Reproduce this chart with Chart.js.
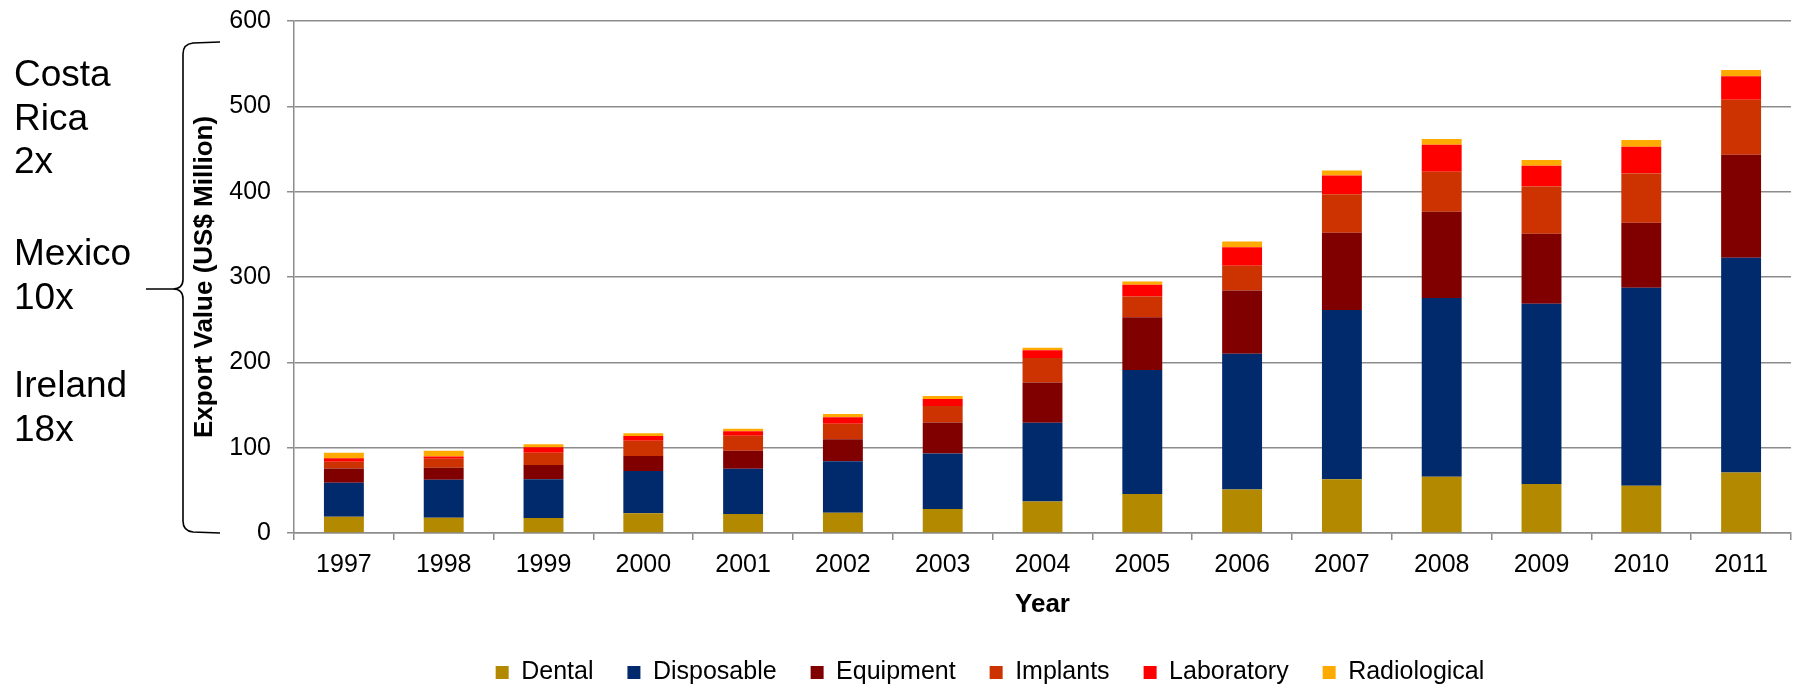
<!DOCTYPE html>
<html>
<head>
<meta charset="utf-8">
<script src="https://cdn.jsdelivr.net/npm/chart.js@4.4.1/dist/chart.umd.min.js"></script>
<style>
  html, body { margin: 0; padding: 0; background: #fff; }
  canvas { display: block; }
</style>
</head>
<body>
<canvas id="exports" width="1793" height="687"></canvas>
<script>
// Medical device exports by segment, US$ million
const years = ['1997', '1998', '1999', '2000', '2001', '2002', '2003', '2004',
               '2005', '2006', '2007', '2008', '2009', '2010', '2011'];
const dental       = [19, 18, 17.6, 23, 22.3, 23.8, 28.2, 36.8, 45.8, 50.9, 63, 66, 57.5, 55.5, 70.8];
const disposable   = [40, 44.5, 45.3, 49.7, 53.1, 60.2, 65, 92.4, 145.2, 159.3, 198.4, 209.5, 211.1, 231.8, 251.7];
const equipment    = [16.5, 14, 16.8, 17.5, 21.1, 25.8, 36.3, 47.3, 61.8, 73.9, 90.4, 100.9, 82.1, 76.3, 120.8];
const implants     = [8, 10.5, 14.4, 18, 17.5, 18.3, 19.2, 28.6, 24.3, 29, 45.1, 46.9, 55.5, 57.8, 64.5];
const laboratory   = [4, 2.7, 6.3, 5.5, 5.1, 7.4, 8.3, 9, 13.7, 21.9, 21.9, 31.6, 24.2, 31.3, 27.4];
const radiological = [6.5, 6.7, 3.5, 3.1, 3.2, 4, 3.5, 3.1, 3.9, 6.7, 5.9, 6.7, 6.7, 7.8, 7.4];
const yTicks = [0, 100, 200, 300, 400, 500, 600];

// growth multiples shown beside the axis
const growthNotes = [
    ['Costa', 'Rica', '2x'],
    ['Mexico', '10x'],
    ['Ireland', '18x'],
];

const FONT = "'Liberation Sans', Arial, sans-serif";
const GRID = '#8c8c8c';

const COLORS = {
    dental: '#B38900',
    disposable: '#002A6C',
    equipment: '#800000',
    implants: '#CC3300',
    laboratory: '#FF0000',
    radiological: '#FFAA00',
};

function series(label, data, color) {
    return {
        label,
        data,
        backgroundColor: color,
        borderWidth: 0,
        barPercentage: 0.4,
        categoryPercentage: 1.0,
    };
}

// Left-hand notes and the curly brace next to the y axis
const sideNotes = {
    id: 'sideNotes',
    afterDraw(chart) {
        const ctx = chart.ctx;
        const y = chart.scales.y;
        ctx.save();
        ctx.fillStyle = '#000';
        ctx.font = `37px ${FONT}`;
        ctx.textAlign = 'left';
        ctx.textBaseline = 'middle';
        const groupTops = [76, 255, 387];
        growthNotes.forEach((lines, g) => {
            lines.forEach((t, i) => ctx.fillText(t, 14, groupTops[g] + i * 43.5));
        });

        // brace spanning the value axis
        const x0 = 183, xr = 220, xt = 146, r = 10;
        const yTop = 42;
        const yBot = y.getPixelForValue(0);
        const yMid = 289;
        ctx.strokeStyle = '#000';
        ctx.lineWidth = 1.6;
        ctx.beginPath();
        ctx.moveTo(xr, yTop);
        ctx.lineTo(x0 + r, yTop + 1);
        ctx.quadraticCurveTo(x0, yTop + 2, x0, yTop + r + 2);
        ctx.lineTo(x0, yMid - r);
        ctx.quadraticCurveTo(x0, yMid, x0 - r, yMid);
        ctx.lineTo(xt, yMid);
        ctx.moveTo(x0 - r, yMid);
        ctx.quadraticCurveTo(x0, yMid, x0, yMid + r);
        ctx.lineTo(x0, yBot - r - 2);
        ctx.quadraticCurveTo(x0, yBot - 2, x0 + r, yBot - 1);
        ctx.lineTo(xr, yBot);
        ctx.stroke();
        ctx.restore();
    },
};

new Chart(document.getElementById('exports'), {
    type: 'bar',
    data: {
        labels: years,
        datasets: [
            series('Dental', dental, COLORS.dental),
            series('Disposable', disposable, COLORS.disposable),
            series('Equipment', equipment, COLORS.equipment),
            series('Implants', implants, COLORS.implants),
            series('Laboratory', laboratory, COLORS.laboratory),
            series('Radiological', radiological, COLORS.radiological),
        ],
    },
    options: {
        responsive: false,
        animation: false,
        devicePixelRatio: 1,
        layout: { padding: { left: 189, right: 2, top: 21, bottom: -8 } },
        scales: {
            x: {
                stacked: true,
                grid: { drawOnChartArea: false, color: GRID, lineWidth: 1.5, tickLength: 7 },
                border: { color: GRID, width: 1.5 },
                ticks: { color: '#000', font: { family: FONT, size: 25 }, padding: 10 },
                title: {
                    display: true,
                    text: 'Year',
                    color: '#000',
                    font: { family: FONT, size: 26, weight: 'bold' },
                    padding: { top: 0, bottom: 6 },
                },
                afterFit(scale) { scale.height = 93; },
            },
            y: {
                stacked: true,
                min: 0,
                max: 600,
                afterBuildTicks(scale) { scale.ticks = yTicks.map(v => ({ value: v })); },
                grid: { color: GRID, lineWidth: 1.5, tickLength: 7 },
                border: { color: GRID, width: 1.5 },
                ticks: { color: '#000', font: { family: FONT, size: 25 }, padding: 16 },
                title: {
                    display: true,
                    text: 'Export Value (US$ Million)',
                    color: '#000',
                    font: { family: FONT, size: 26, weight: 'bold' },
                    padding: { top: 0, bottom: 0 },
                },
                afterFit(scale) {
                    scale.width = 105;
                    // top label may overhang; keep the plot top at the layout padding
                    scale.paddingTop = 0;
                    scale.paddingBottom = 0;
                },
            },
        },
        plugins: {
            legend: {
                position: 'bottom',
                labels: {
                    color: '#000',
                    font: { family: FONT, size: 25 },
                    boxWidth: 13,
                    boxHeight: 13,
                    padding: 34,
                },
            },
            tooltip: { enabled: false },
        },
    },
    plugins: [sideNotes],
});
</script>
</body>
</html>
